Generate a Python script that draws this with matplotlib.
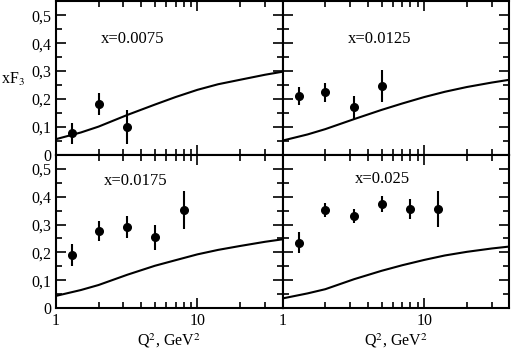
# coding: utf-8
"""xF3 vs Q^2 for four x bins: data points and model curves."""

import numpy as np
import matplotlib
matplotlib.use("Agg")
import matplotlib.pyplot as plt
from matplotlib.ticker import FixedLocator, MultipleLocator, FuncFormatter, NullFormatter

plt.rcParams['font.family'] = ['Liberation Serif', 'DejaVu Serif']
plt.rcParams['mathtext.fontset'] = 'stix'

x_bins = ["x=0.0075", "x=0.0125", "x=0.0175", "x=0.025"]

# measured points
q2_pts = [
    [1.3, 2.0, 3.2],
    [1.3, 2.0, 3.2, 5.0],
    [1.3, 2.0, 3.2, 5.0, 8.0],
    [1.3, 2.0, 3.2, 5.0, 8.0, 12.6],
]
f3_pts = [
    [0.077, 0.181, 0.099],
    [0.211, 0.224, 0.170, 0.248],
    [0.190, 0.277, 0.290, 0.254, 0.351],
    [0.235, 0.351, 0.330, 0.373, 0.355, 0.355],
]
f3_err = [
    [0.037, 0.040, 0.062],
    [0.033, 0.034, 0.040, 0.057],
    [0.040, 0.035, 0.039, 0.046, 0.068],
    [0.037, 0.025, 0.025, 0.028, 0.036, 0.065],
]

# model curves
q2_curve = [1, 1.5, 2, 3.2, 5, 7, 10, 14, 20, 30, 40]
f3_curve = [
    [0.056, 0.080, 0.101, 0.143, 0.180, 0.207, 0.233, 0.253, 0.269, 0.287, 0.298],
    [0.051, 0.073, 0.092, 0.128, 0.161, 0.184, 0.207, 0.226, 0.243, 0.259, 0.269],
    [0.044, 0.065, 0.083, 0.120, 0.152, 0.172, 0.193, 0.209, 0.223, 0.238, 0.247],
    [0.035, 0.053, 0.068, 0.104, 0.134, 0.154, 0.173, 0.189, 0.202, 0.214, 0.221],
]

label_pos = [(0.198, 0.756), (0.289, 0.756), (0.211, 0.83), (0.319, 0.84)]

fig, axes = plt.subplots(2, 2, figsize=(5.13, 3.53), dpi=100, sharex=True, sharey=True)
fig.subplots_adjust(left=0.109, right=0.993, top=0.996, bottom=0.127, wspace=0, hspace=0)


def comma(v, pos):
    if abs(v) < 1e-9:
        return "0"
    return ("%.1f" % v).replace(".", ",")


for i, ax in enumerate(axes.flat):
    ax.plot(q2_curve, f3_curve[i], color='black', lw=1.5)
    ax.errorbar(q2_pts[i], f3_pts[i], yerr=f3_err[i], fmt='o', color='black',
                ms=5.5, elinewidth=1.5, capsize=0)
    ax.text(label_pos[i][0], label_pos[i][1], x_bins[i], transform=ax.transAxes,
            fontsize=12, ha='left', va='center')
    ax.set_xscale('log')
    ax.set_xlim(1, 40)
    ax.set_ylim(0, 0.55)
    ax.xaxis.set_major_locator(FixedLocator([1, 10]))
    ax.xaxis.set_minor_locator(FixedLocator([2, 3, 4, 5, 6, 7, 8, 9, 20, 30]))
    ax.xaxis.set_major_formatter(FuncFormatter(lambda v, p: "%d" % v))
    ax.xaxis.set_minor_formatter(NullFormatter())
    ax.yaxis.set_major_locator(MultipleLocator(0.1))
    ax.yaxis.set_minor_locator(MultipleLocator(0.05))
    ax.yaxis.set_major_formatter(FuncFormatter(comma))
    ax.tick_params(which='both', direction='in', top=True, right=True, width=1.2,
                   labelsize=11.5)
    ax.tick_params(which='major', length=7)
    ax.tick_params(which='minor', length=4.5)
    for s in ax.spines.values():
        s.set_linewidth(1.5)

for ax in axes[1]:
    ax.set_xlabel("Q$^2$, GeV$^2$", fontsize=11.5, labelpad=2)

axes[0, 0].text(-0.24, 0.49, "xF$_3$", transform=axes[0, 0].transAxes,
                fontsize=11.5, ha='left', va='center')

fig.savefig("out.png", dpi=100)
